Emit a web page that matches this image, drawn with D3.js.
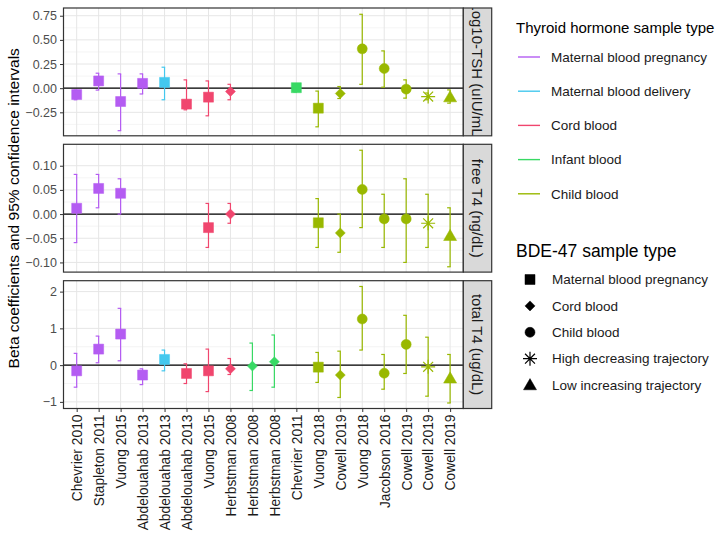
<!DOCTYPE html>
<html lang="en">
<head>
    <meta charset="UTF-8">
    <title>BDE-47 and thyroid hormones</title>
    <script src="https://d3js.org/d3.v7.min.js"></script>
    <style>
        body { margin: 0; background: #fff; }
        text { font-family: "Liberation Sans", Arial, sans-serif; }
    </style>
</head>
<body>
    <script>
        // study labels along the x axis (left to right)
        const studies = ['Chevrier 2010', 'Stapleton 2011', 'Vuong 2015', 'Abdelouahab 2013', 'Abdelouahab 2013',
            'Abdelouahab 2013', 'Vuong 2015', 'Herbstman 2008', 'Herbstman 2008', 'Herbstman 2008', 'Chevrier 2011',
            'Vuong 2018', 'Cowell 2019', 'Vuong 2018', 'Jacobson 2016', 'Cowell 2019', 'Cowell 2019', 'Cowell 2019'];

        // colour = thyroid hormone sample type, shape = BDE-47 sample type
        const hormoneTypes = ['Maternal blood pregnancy', 'Maternal blood delivery', 'Cord blood', 'Infant blood', 'Child blood'];
        const hormoneColors = ['#b45cf2', '#44c8ee', '#f0466e', '#38d964', '#99b800'];
        const bdeTypes = ['Maternal blood pregnancy', 'Cord blood', 'Child blood', 'High decreasing trajectory', 'Low increasing trajectory'];

        const studyHormone = [0, 0, 0, 0, 1, 2, 2, 2, 3, 3, 3, 4, 4, 4, 4, 4, 4, 4];
        const studyBde = [0, 0, 0, 0, 0, 0, 0, 1, 1, 1, 0, 0, 1, 2, 2, 2, 3, 4];

        // panels
        const outcomes = ['Log10-TSH (uIU/mL)', 'free T4 (ng/dL)', 'total T4 (ug/dL)'];
        const yLimits = [[-0.493, 0.83], [-0.120, 0.1443], [-1.18, 2.297]];
        const yTicks = [[-0.25, 0, 0.25, 0.5, 0.75], [-0.10, -0.05, 0, 0.05, 0.10], [-1, 0, 1, 2]];
        const yMinor = [[-0.375, -0.125, 0.125, 0.375, 0.625], [-0.075, -0.025, 0.025, 0.075], [-0.5, 0.5, 1.5]];
        const yFormat = [d3.format('.2f'), d3.format('.2f'), d3.format('d')];

        // estimates and 95% CI per outcome (null = not reported)
        const tshEst = [-0.066, 0.075, -0.138, 0.05, 0.06, -0.165, -0.093, -0.035, null, null, 0.005, -0.207, -0.055, 0.407, 0.203, -0.01, -0.087, -0.093];
        const tshLow = [-0.12, -0.02, -0.44, -0.06, -0.12, -0.224, -0.286, -0.12, null, null, -0.04, -0.40, -0.107, 0.04, 0.01, -0.103, -0.12, -0.155];
        const tshHigh = [-0.02, 0.155, 0.148, 0.148, 0.217, 0.086, 0.075, 0.04, null, null, 0.04, -0.03, 0.017, 0.765, 0.386, 0.086, -0.05, -0.018];

        const ft4Est = [0.012, 0.053, 0.043, null, null, null, -0.028, 0.0, null, null, null, -0.018, -0.039, 0.051, -0.01, -0.01, -0.019, -0.045];
        const ft4Low = [-0.059, 0.013, 0.0, null, null, null, -0.069, -0.019, null, null, null, -0.069, -0.079, -0.028, -0.069, -0.10, -0.069, -0.109];
        const ft4High = [0.082, 0.082, 0.073, null, null, null, 0.022, 0.022, null, null, null, 0.032, 0.0, 0.132, 0.041, 0.073, 0.041, 0.013];

        const tt4Est = [-0.155, 0.436, 0.845, -0.27, 0.155, -0.227, -0.155, -0.1, -0.027, 0.09, null, -0.055, -0.27, 1.255, -0.22, 0.564, -0.045, -0.36];
        const tt4Low = [-0.6, 0.064, 0.118, -0.53, -0.155, -0.5, -0.72, -0.255, -0.69, -0.6, null, -0.47, -0.88, 0.41, -0.655, -0.227, -0.845, -1.03];
        const tt4High = [0.32, 0.79, 1.545, -0.1, 0.41, 0.036, 0.436, 0.18, 0.6, 0.82, null, 0.345, 0.38, 2.14, 0.29, 1.355, 0.76, 0.29];

        const panelEst = [tshEst, ft4Est, tt4Est];
        const panelLow = [tshLow, ft4Low, tt4Low];
        const panelHigh = [tshHigh, ft4High, tt4High];

        const width = 720, height = 540;
        const left = 63.5, right = 463.3, stripW = 28.4;
        const panelTops = [8, 144.3, 280.7];
        const panelH = 127.8;

        const svg = d3.select('body').append('svg')
            .attr('width', width)
            .attr('height', height);

        const x = d3.scaleLinear()
            .domain([0.4, studies.length + 0.6])
            .range([left, right]);
        const idx = d3.range(1, studies.length + 1);

        // marker shapes
        function shapePath(type, s) {
            const p = d3.path();
            if (type === 0) {
                p.rect(-s, -s, 2 * s, 2 * s);
            } else if (type === 1) {
                const r = s;
                p.moveTo(0, -r); p.lineTo(r, 0); p.lineTo(0, r); p.lineTo(-r, 0); p.closePath();
            } else if (type === 2) {
                p.arc(0, 0, s, 0, 2 * Math.PI);
            } else if (type === 3) {
                const r = s * 1.4, q = r * Math.SQRT1_2;
                p.moveTo(-r, 0); p.lineTo(r, 0);
                p.moveTo(0, -r); p.lineTo(0, r);
                p.moveTo(-q, -q); p.lineTo(q, q);
                p.moveTo(-q, q); p.lineTo(q, -q);
            } else {
                const r = s * 1.3;
                p.moveTo(0, -r); p.lineTo(r, r * 0.72); p.lineTo(-r, r * 0.72); p.closePath();
            }
            return p.toString();
        }

        function drawMarker(g, type, color, s) {
            g.append('path')
                .attr('d', shapePath(type, s))
                .attr('fill', type === 3 ? 'none' : color)
                .attr('stroke', color)
                .attr('stroke-width', type === 3 ? 1.2 : 0.5);
        }

        outcomes.forEach((outcome, k) => {
            const top = panelTops[k];
            const y = d3.scaleLinear().domain(yLimits[k]).range([top + panelH, top]);
            const g = svg.append('g');

            g.append('rect')
                .attr('x', left).attr('y', top)
                .attr('width', right - left).attr('height', panelH)
                .attr('fill', '#fff');

            // grid
            g.selectAll('.minor')
                .data(yMinor[k])
                .join('line')
                .attr('x1', left).attr('x2', right)
                .attr('y1', d => y(d)).attr('y2', d => y(d))
                .attr('stroke', '#ededed').attr('stroke-width', 0.6);
            g.selectAll('.majorY')
                .data(yTicks[k])
                .join('line')
                .attr('x1', left).attr('x2', right)
                .attr('y1', d => y(d)).attr('y2', d => y(d))
                .attr('stroke', '#e6e6e6').attr('stroke-width', 1);
            g.selectAll('.majorX')
                .data(idx)
                .join('line')
                .attr('x1', d => x(d)).attr('x2', d => x(d))
                .attr('y1', top).attr('y2', top + panelH)
                .attr('stroke', '#e6e6e6').attr('stroke-width', 1);

            // zero line
            g.append('line')
                .attr('x1', left).attr('x2', right)
                .attr('y1', y(0)).attr('y2', y(0))
                .attr('stroke', '#000').attr('stroke-width', 1.3);

            // y axis
            const axis = svg.append('g')
                .attr('transform', `translate(${left},0)`)
                .call(d3.axisLeft(y).tickValues(yTicks[k]).tickFormat(yFormat[k]).tickSize(3.5).tickPadding(3));
            axis.select('.domain').remove();
            axis.selectAll('line').attr('stroke', '#333');
            axis.selectAll('text')
                .attr('font-size', 12.5)
                .attr('fill', '#4d4d4d')
                .style('font-family', '"Liberation Sans", Arial, sans-serif');

            // error bars and points
            const est = panelEst[k], lo = panelLow[k], hi = panelHigh[k];
            const rows = idx.filter(i => est[i - 1] !== null);
            rows.forEach(i => {
                const color = hormoneColors[studyHormone[i - 1]];
                const cx = x(i);
                const eb = g.append('g')
                    .attr('stroke', color)
                    .attr('stroke-width', 1.2)
                    .attr('fill', 'none');
                eb.append('line')
                    .attr('x1', cx).attr('x2', cx)
                    .attr('y1', y(lo[i - 1])).attr('y2', y(hi[i - 1]));
                [lo[i - 1], hi[i - 1]].forEach(v => {
                    eb.append('line')
                        .attr('x1', cx - 3).attr('x2', cx + 0.6)
                        .attr('y1', y(v)).attr('y2', y(v));
                });
                const m = g.append('g').attr('transform', `translate(${cx},${y(est[i - 1])})`);
                drawMarker(m, studyBde[i - 1], color, 5);
            });

            // panel border
            g.append('rect')
                .attr('x', left).attr('y', top)
                .attr('width', right - left).attr('height', panelH)
                .attr('fill', 'none').attr('stroke', '#333').attr('stroke-width', 1.2);

            // strip
            const clipId = 'strip' + k;
            svg.append('clipPath').attr('id', clipId)
                .append('rect')
                .attr('x', right).attr('y', top)
                .attr('width', stripW).attr('height', panelH);
            const strip = svg.append('g').attr('clip-path', `url(#${clipId})`);
            strip.append('rect')
                .attr('x', right).attr('y', top)
                .attr('width', stripW).attr('height', panelH)
                .attr('fill', '#d9d9d9');
            strip.append('text')
                .attr('transform', `translate(${right + stripW / 2},${top + panelH / 2}) rotate(90)`)
                .attr('text-anchor', 'middle')
                .attr('dy', '0.35em')
                .attr('font-size', 15)
                .attr('fill', '#1a1a1a')
                .text(outcome);
            svg.append('rect')
                .attr('x', right).attr('y', top)
                .attr('width', stripW).attr('height', panelH)
                .attr('fill', 'none').attr('stroke', '#333').attr('stroke-width', 1.2);
        });

        // x axis at the bottom panel
        const bottom = panelTops[2] + panelH;
        const xAxis = svg.append('g')
            .attr('transform', `translate(0,${bottom})`)
            .call(d3.axisBottom(x).tickValues(idx).tickFormat(i => studies[i - 1]).tickSize(3.5).tickPadding(2));
        xAxis.select('.domain').remove();
        xAxis.selectAll('line').attr('stroke', '#333');
        xAxis.selectAll('text')
            .attr('font-size', 13.8)
            .attr('fill', '#1a1a1a')
            .attr('text-anchor', 'end')
            .attr('transform', 'rotate(-90)')
            .attr('x', -6)
            .attr('y', 0)
            .attr('dy', '0.35em')
            .style('font-family', '"Liberation Sans", Arial, sans-serif');

        // y title
        svg.append('text')
            .attr('transform', `translate(19,${(panelTops[0] + bottom) / 2}) rotate(-90)`)
            .attr('text-anchor', 'middle')
            .attr('font-size', 15.5)
            .attr('fill', '#000')
            .text('Beta coefficients and 95% confidence intervals');

        // colour legend
        const legX = 516;
        svg.append('text')
            .attr('x', legX).attr('y', 33)
            .attr('font-size', 15)
            .text('Thyroid hormone sample type');
        const colorKeys = svg.selectAll('.ckey')
            .data(hormoneTypes)
            .join('g')
            .attr('transform', (d, i) => `translate(${legX},${57 + i * 34.2})`);
        colorKeys.append('line')
            .attr('x1', 2).attr('x2', 24)
            .attr('stroke', (d, i) => hormoneColors[i])
            .attr('stroke-width', 1.4);
        colorKeys.append('text')
            .attr('x', 35).attr('dy', '0.35em')
            .attr('font-size', 13.5)
            .attr('fill', '#1a1a1a')
            .text(d => d);

        // shape legend
        svg.append('text')
            .attr('x', legX).attr('y', 257)
            .attr('font-size', 17.5)
            .text('BDE-47 sample type');
        const shapeKeys = svg.selectAll('.skey')
            .data(bdeTypes)
            .join('g')
            .attr('transform', (d, i) => `translate(${legX},${279.5 + i * 26.4})`);
        shapeKeys.each(function (d, i) {
            const m = d3.select(this).append('g').attr('transform', 'translate(14,0)');
            drawMarker(m, i, '#000', 5);
        });
        shapeKeys.append('text')
            .attr('x', 36).attr('dy', '0.35em')
            .attr('font-size', 13.5)
            .attr('fill', '#1a1a1a')
            .text(d => d);
    </script>
</body>
</html>
